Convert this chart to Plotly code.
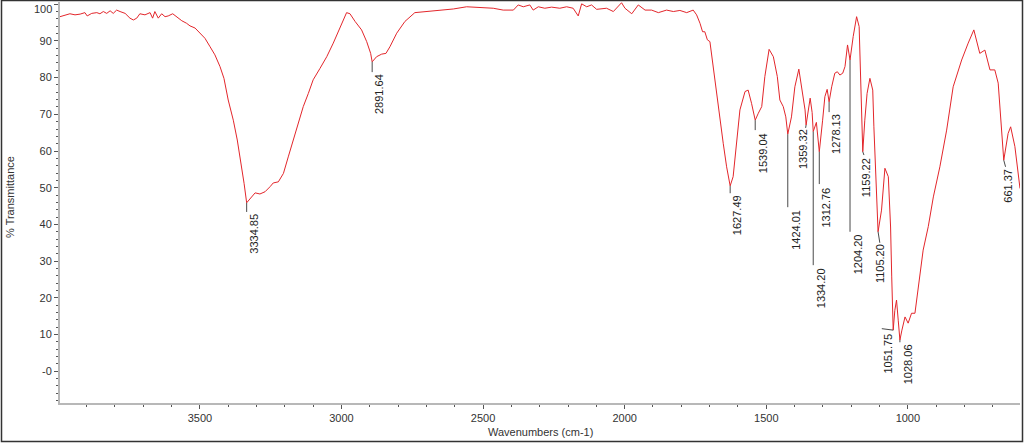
import plotly.graph_objects as go

# ---- spectrum data (wavenumber cm-1, %T) ----
wavenumber = [
    3994, 3976, 3959, 3941, 3923, 3906, 3898, 3882, 3864, 3853, 3841, 3829, 3817, 3806, 3794, 3782,
    3764, 3747, 3735, 3723, 3712, 3694, 3676, 3667, 3659, 3647, 3635, 3623, 3612, 3596, 3582, 3564,
    3547, 3535, 3517, 3500, 3482, 3464, 3447, 3429, 3415, 3400, 3382, 3368, 3356, 3344, 3334.85, 3321,
    3305, 3288, 3270, 3252, 3241, 3223, 3205, 3188, 3170, 3153, 3135, 3117, 3100, 3076, 3052, 3029,
    3005, 2988, 2982, 2970, 2952, 2929, 2911, 2897, 2891.64, 2876, 2858, 2843, 2829, 2805, 2776, 2741,
    2699, 2652, 2605, 2558, 2511, 2464, 2429, 2393, 2376, 2358, 2335, 2323, 2305, 2282, 2258, 2229,
    2205, 2182, 2164, 2152, 2134, 2117, 2099, 2064, 2040, 2011, 1999, 1975, 1952, 1928, 1905, 1881,
    1852, 1828, 1805, 1781, 1758, 1746, 1734, 1725, 1717, 1708, 1699, 1687, 1675, 1664, 1652, 1640,
    1627.49, 1617, 1605, 1593, 1575, 1564, 1552, 1539.04, 1528, 1516, 1505, 1490, 1475, 1461, 1452, 1440,
    1431, 1424.01, 1411, 1399, 1385, 1375, 1363, 1359.32, 1352, 1345, 1338, 1334.20, 1323, 1318, 1312.76, 1301,
    1293, 1285, 1278.13, 1269, 1258, 1249, 1240, 1230, 1222, 1213, 1207, 1204.20, 1193, 1181, 1172, 1166,
    1159.22, 1152, 1144, 1134, 1124, 1120, 1111, 1105.20, 1093, 1081, 1069, 1061, 1057, 1051.75, 1046, 1040,
    1034, 1028.06, 1021, 1010, 999, 987, 975, 957, 946, 928, 910, 887, 863, 840, 810, 787,
    767, 746, 728, 710, 693, 681, 669, 661.37, 646, 637, 622, 604,
]
transmittance = [
    96.6, 97.1, 97.4, 97.1, 97.3, 97.7, 96.8, 97.5, 97.7, 97.4, 98.0, 97.5, 98.2, 97.5, 98.4, 98.0,
    97.5, 96.2, 95.7, 96.2, 97.4, 97.1, 97.7, 96.2, 98.0, 96.2, 97.4, 96.6, 96.8, 97.4, 96.5, 95.5,
    94.8, 94.1, 93.5, 92.1, 90.7, 88.4, 86.2, 83.0, 79.8, 73.9, 68.4, 63.0, 57.5, 51.2, 45.9, 47.1,
    48.6, 48.3, 48.9, 50.3, 51.3, 51.6, 53.9, 58.4, 63.0, 67.5, 72.1, 75.7, 79.4, 82.5, 85.7, 89.4,
    93.9, 97.1, 97.7, 97.4, 95.3, 93.0, 89.8, 86.6, 84.3, 85.7, 86.4, 86.6, 88.4, 92.1, 95.3, 97.7,
    98.0, 98.4, 98.7, 99.3, 99.2, 98.9, 98.4, 98.4, 99.8, 99.3, 99.8, 98.4, 99.3, 98.9, 99.2, 98.9,
    99.3, 98.9, 96.8, 100.1, 99.3, 99.8, 98.6, 98.9, 98.0, 100.4, 98.9, 97.4, 99.8, 98.4, 98.4, 97.7,
    98.4, 98.0, 98.3, 97.7, 98.4, 97.1, 94.8, 92.5, 92.5, 90.3, 89.8, 82.6, 75.7, 68.4, 62.1, 55.7,
    50.5, 53.0, 62.1, 71.2, 76.2, 76.6, 73.0, 68.4, 70.3, 72.1, 80.3, 87.7, 85.7, 80.3, 73.9, 72.1,
    69.3, 64.6, 69.3, 77.5, 82.3, 77.5, 71.2, 67.1, 71.2, 74.4, 70.5, 65.3, 67.8, 64.0, 59.8, 68.4,
    74.8, 76.8, 73.4, 77.5, 81.2, 81.6, 80.7, 81.2, 83.0, 88.9, 86.6, 84.8, 91.2, 96.6, 93.9, 80.3,
    59.8, 68.4, 75.7, 79.8, 76.6, 66.6, 48.5, 38.0, 43.9, 55.3, 53.0, 39.3, 25.7, 11.2, 16.6, 19.4,
    13.9, 8.5, 11.2, 14.8, 13.1, 15.8, 15.8, 25.7, 33.0, 39.4, 47.5, 55.7, 65.7, 77.5, 84.8, 89.4,
    93.0, 86.6, 87.5, 82.1, 82.1, 78.5, 65.7, 57.5, 64.8, 66.6, 61.2, 49.8,
]

# ---- peak labels ----
peak_labels = ["3334.85", "2891.64", "1627.49", "1539.04", "1424.01", "1359.32", "1334.20", "1312.76",
               "1278.13", "1204.20", "1159.22", "1105.20", "1051.75", "1028.06", "661.37"]
peak_wn = [3334.85, 2891.64, 1627.49, 1539.04, 1424.01, 1359.32, 1334.20, 1312.76,
           1278.13, 1204.20, 1159.22, 1105.20, 1051.75, 1028.06, 661.37]
peak_T = [45.9, 84.3, 50.5, 68.4, 64.6, 67.1, 65.3, 59.8, 73.4, 84.8, 59.8, 38.0, 11.2, 8.5, 57.5]

# label layout (leader end points, text top, horizontal pixel shift)
leader_end_wn = [3334.85, 2891.64, 1627.49, 1539.04, 1424.01, 1361, 1334.20, 1312.76,
                 1278.13, 1204.20, 1155, 1099, 1092, 1028.06, 655]
leader_end_T = [43.4, 81.5, 48.5, 65.7, 44.7, 66.3, 28.9, 51.0, 70.6, 38.0, 58.9, 35.0, 11.6, 7.9, 55.7]
text_top_T = [43.1, 81.3, 48.3, 65.2, 44.2, 66.3, 28.4, 50.4, 70.4, 37.6, 58.4, 34.8, 10.6, 7.6, 55.4]
text_dx = [7, 7, 7, 8, 8, -3, 8, 7, 7, 8, 4, 2, -5, 8, 4]

# ---- axis ticks ----
y_tickvals = [0, 10, 20, 30, 40, 50, 60, 70, 80, 90, 100]
y_ticktext = ["-0", "10", "20", "30", "40", "50", "60", "70", "80", "90", ""]
x_range = [3994, 604]
y_range = [-8.65, 100.6]

FONT = "Liberation Sans, Arial, sans-serif"
W, H = 1024, 443
ML, MR, MT, MB = 60, 4, 2, 40
PW, PH = W - ML - MR, H - MT - MB

fig = go.Figure()
fig.add_trace(go.Scatter(x=wavenumber, y=transmittance, mode="lines",
                         line=dict(color="#e3262b", width=1), hoverinfo="x+y",
                         showlegend=False))

shapes = []
annotations = []
for lab, wx, ty, ex, ey, tt, dx in zip(peak_labels, peak_wn, peak_T, leader_end_wn,
                                        leader_end_T, text_top_T, text_dx):
    shapes.append(dict(type="line", xref="x", yref="y", x0=wx, y0=ty, x1=ex, y1=ey,
                       line=dict(color="#4a4a4a", width=1)))
    annotations.append(dict(x=wx, y=tt, xref="x", yref="y", text=lab, showarrow=False,
                            textangle=-90, xanchor="center", yanchor="top", xshift=dx,
                            borderpad=0, font=dict(family=FONT, size=11, color="#222222")))

# '100' label (drawn slightly below its tick, as in the original)
annotations.append(dict(x=0, y=98.7, xref="paper", yref="y", text="100", showarrow=False,
                        xanchor="right", yanchor="middle", xshift=-6,
                        font=dict(family=FONT, size=11, color="#333333")))
# axis titles
annotations.append(dict(x=(10 - ML) / PW, y=(H - MB - 197) / PH, xref="paper", yref="paper",
                        text="% Transmittance", showarrow=False, textangle=-90,
                        xanchor="center", yanchor="middle",
                        font=dict(family=FONT, size=11, color="#333333")))
annotations.append(dict(x=0.5, y=(H - MB - 431.5) / PH, xref="paper", yref="paper",
                        text="Wavenumbers (cm-1)", showarrow=False,
                        xanchor="center", yanchor="middle",
                        font=dict(family=FONT, size=11, color="#333333")))

# outer frame
shapes.append(dict(type="rect", xref="paper", yref="paper",
                   x0=(1.5 - ML) / PW, x1=(1022.5 - ML) / PW,
                   y0=(H - MB - 441.5) / PH, y1=(H - MB - 0.5) / PH,
                   line=dict(color="#333333", width=1.5), layer="above"))

fig.update_layout(
    width=W, height=H,
    margin=dict(l=ML, r=MR, t=MT, b=MB),
    paper_bgcolor="white", plot_bgcolor="white",
    shapes=shapes, annotations=annotations,
    font=dict(family=FONT, size=11, color="#333333"),
    xaxis=dict(range=x_range, tickmode="linear", tick0=0, dtick=500,
               ticks="outside", ticklen=4, tickwidth=1, tickcolor="#555555",
               showline=True, linecolor="#b8b8b8", linewidth=2,
               showgrid=False, zeroline=False,
               minor=dict(tickmode="linear", tick0=0, dtick=100, ticks="outside",
                          ticklen=2, tickcolor="#555555", showgrid=False),
               tickfont=dict(family=FONT, size=11, color="#333333")),
    yaxis=dict(range=y_range, tickmode="array", tickvals=y_tickvals, ticktext=y_ticktext,
               ticks="outside", ticklen=4, tickwidth=1, tickcolor="#555555",
               showline=True, linecolor="#b8b8b8", linewidth=2,
               showgrid=False, zeroline=False,
               minor=dict(tickmode="linear", tick0=0, dtick=2, ticks="outside",
                          ticklen=2, tickcolor="#555555", showgrid=False),
               tickfont=dict(family=FONT, size=11, color="#333333")),
)

fig.write_html("out.html",
               config={"displayModeBar": False},
               post_script="document.body.style.margin='0';document.body.style.overflow='hidden';")
